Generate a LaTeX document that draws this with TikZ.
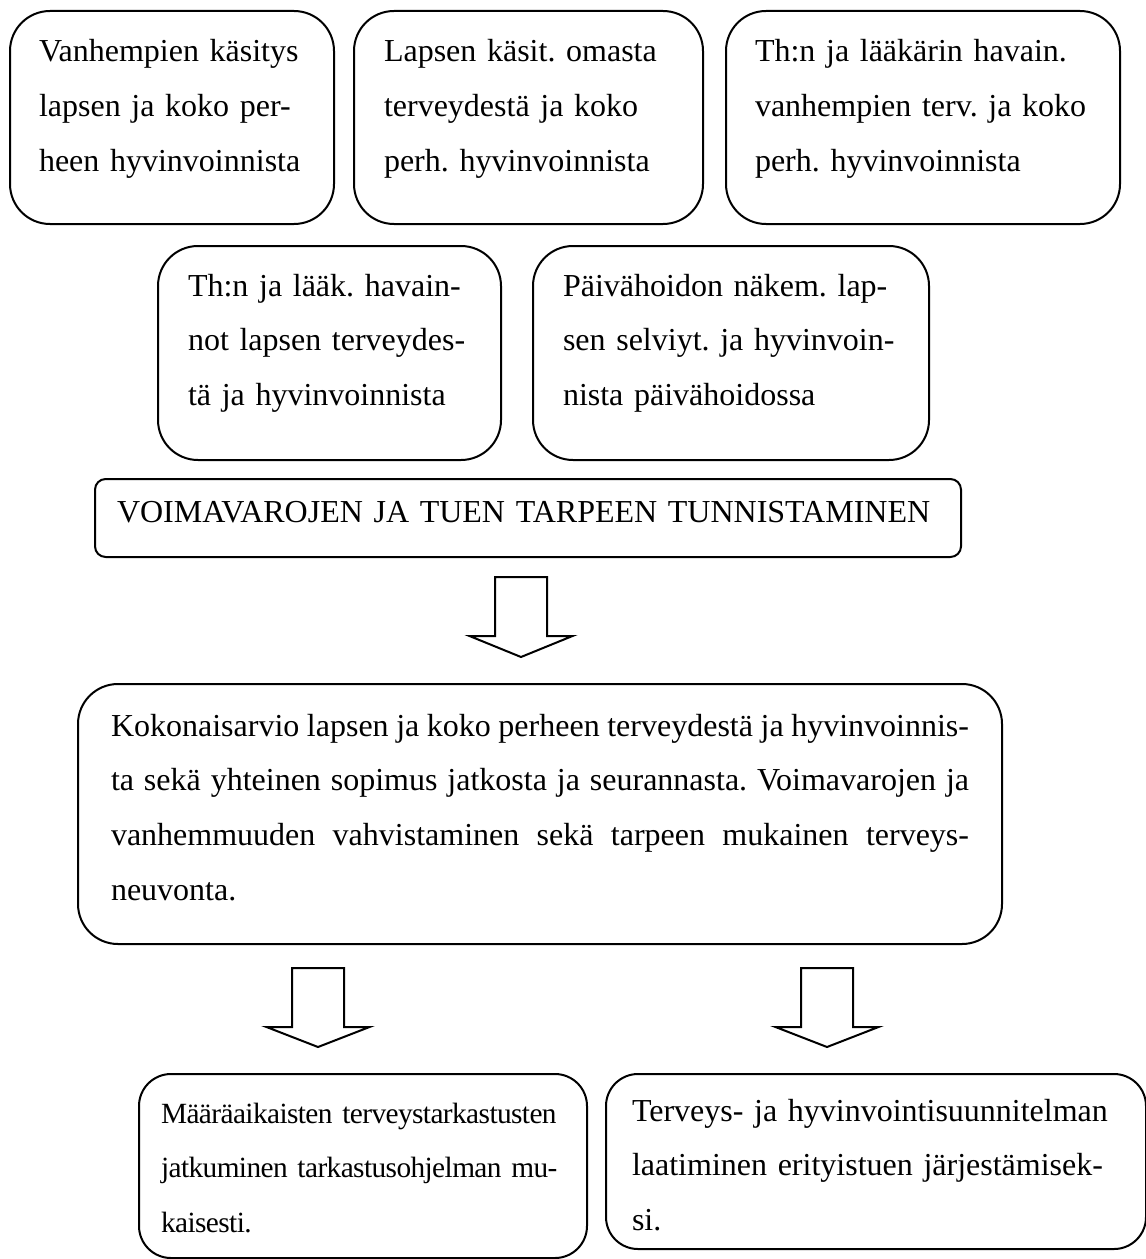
\documentclass[tikz,border=0pt]{standalone}
\usepackage{fontspec}
\setmainfont{Liberation Serif}

% one justified line of the big box
\newcommand{\justline}[1]{{\spaceskip=0.25em plus 0.4em minus 0.09em
    \makebox[321.75pt][s]{#1}}}

\begin{document}
\frenchspacing
\begin{tikzpicture}[
    x=0.375pt, y=-0.375pt,
    font=\fontsize{12pt}{20.6pt}\selectfont,
    box/.style={draw, line width=0.75pt, rounded corners=15pt,
        anchor=north west, align=left, inner ysep=0pt},
    hollow/.style={draw, line width=0.75pt, line join=miter}
]

\useasboundingbox (0,0) rectangle (1146,1259);

% top row
\node[box, inner xsep=10.875pt, text width=99.75pt,
    text height=19.125pt, text depth=60.75pt] (parents) at (9,10)
{Vanhempien käsitys\\
lapsen ja koko per-\\
heen hyvinvoinnista};

\node[box, inner xsep=11.25pt, text width=108.375pt,
    text height=19.125pt, text depth=60.75pt] (child) at (353,10)
{Lapsen käsit. omasta\\
terveydestä ja koko\\
perh. hyvinvoinnista};

\node[box, inner xsep=10.875pt, text width=126pt,
    text height=19.125pt, text depth=60.75pt] (nurseparents) at (725,10)
{Th:n ja lääkärin havain.\\
vanhempien terv. ja koko\\
perh. hyvinvoinnista};

% second row
\node[box, inner xsep=11.25pt, text width=106.125pt,
    text height=18.75pt, text depth=61.5pt] (nursechild) at (157,245)
{Th:n ja lääk. havain-\\
not lapsen terveydes-\\
tä ja hyvinvoinnista};

\node[box, inner xsep=11.25pt, text width=126pt,
    text height=18.75pt, text depth=61.5pt] (daycare) at (532,245)
{Päivähoidon näkem. lap-\\
sen selviyt. ja hyvinvoin-\\
nista päivähoidossa};

% identification
\node[box, rounded corners=4pt, inner xsep=8.25pt, text width=308.25pt,
    text height=16.125pt, text depth=13.125pt] (needs) at (94,478)
{VOIMAVAROJEN JA TUEN TARPEEN TUNNISTAMINEN};

% first block arrow
\coordinate (tipA) at (521,657);
\draw[hollow] (tipA) -- ++(-51.5,-21) -- ++(25.5,0) -- ++(0,-59)
    -- ++(52,0) -- ++(0,59) -- ++(25.5,0) -- cycle;

% overall assessment
\node[box, inner xsep=12.375pt, text width=321.75pt,
    text height=19.5pt, text depth=78pt] (overall) at (77,683)
{\justline{Kokonaisarvio lapsen ja koko perheen terveydestä ja hyvinvoinnis-}\\
\justline{ta sekä yhteinen sopimus jatkosta ja seurannasta. Voimavarojen ja}\\
\justline{vanhemmuuden vahvistaminen sekä tarpeen mukainen terveys-}\\
neuvonta.};

% block arrows to the outcomes
\coordinate (tipB) at (318,1047);
\draw[hollow] (tipB) -- ++(-51.5,-20) -- ++(25.5,0) -- ++(0,-59)
    -- ++(52,0) -- ++(0,59) -- ++(25.5,0) -- cycle;

\coordinate (tipC) at (827,1047);
\draw[hollow] (tipC) -- ++(-51.5,-20) -- ++(25.5,0) -- ++(0,-59)
    -- ++(52,0) -- ++(0,59) -- ++(25.5,0) -- cycle;

% outcomes
\node[box, rounded corners=12pt, inner xsep=8.25pt, text width=151.5pt,
    text height=18.375pt, text depth=50.625pt,
    font=\fontsize{11pt}{20.6pt}\selectfont\addfontfeatures{LetterSpace=-2}]
    (followup) at (138,1073)
{Määräaikaisten terveystarkastusten\\
jatkuminen tarkastusohjelman mu-\\
kaisesti.};

\node[box, rounded corners=12pt, inner xsep=9.75pt, text width=183pt,
    text height=17.625pt, text depth=48pt] (plan) at (605,1073)
{Terveys- ja hyvinvointisuunnitelman\\
laatiminen erityistuen järjestämisek-\\
si.};

\end{tikzpicture}
\end{document}
